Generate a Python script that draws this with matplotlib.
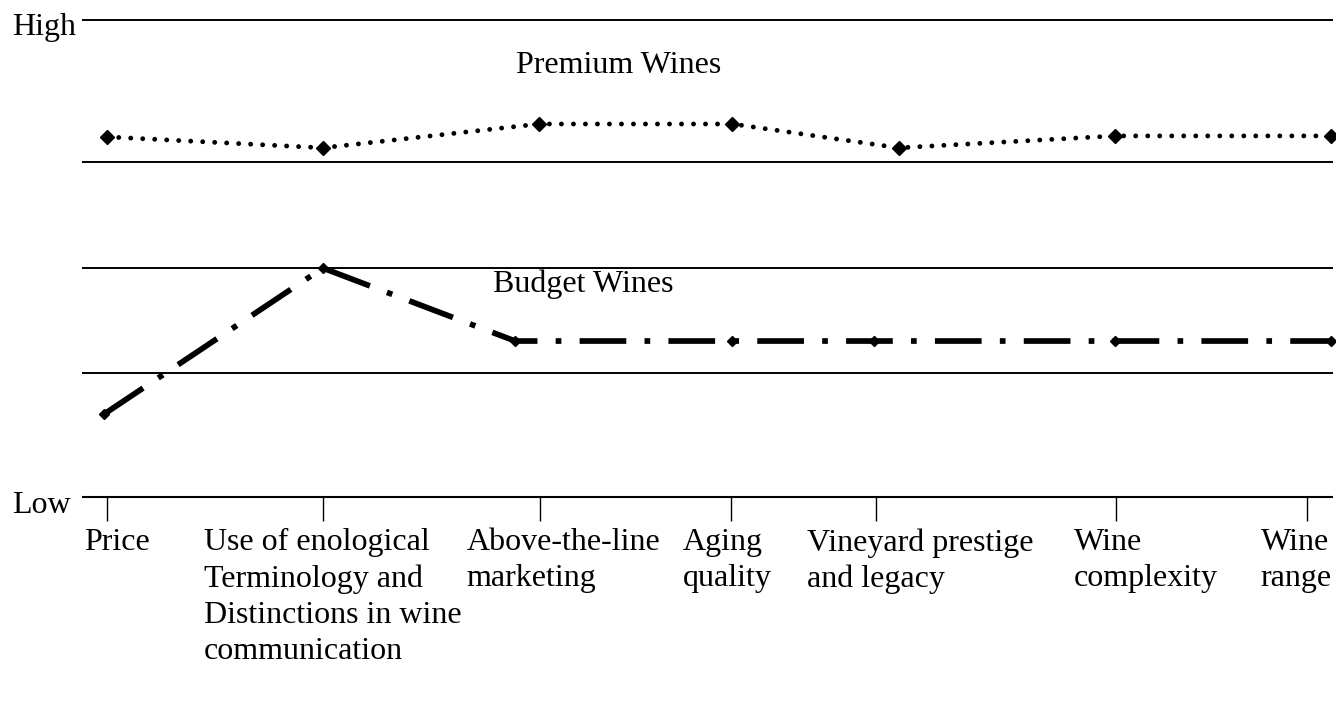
import matplotlib
matplotlib.use("Agg")
import matplotlib.pyplot as plt
import matplotlib.transforms as mtransforms

# ---- data ----
categories = ["Price",
              "Use of enological\nTerminology and\nDistinctions in wine\ncommunication",
              "Above-the-line\nmarketing",
              "Aging\nquality",
              "Vineyard prestige\nand legacy",
              "Wine\ncomplexity",
              "Wine\nrange"]
tick_positions = [1.9, 19.2, 36.6, 51.9, 63.5, 82.7, 98.0]

premium_x = [1.9, 19.2, 36.5, 52.0, 65.3, 82.6, 99.9]
premium_y = [75.5, 73.2, 78.2, 78.2, 73.2, 75.7, 75.7]

budget_x = [1.7, 19.2, 34.6, 52.0, 63.3, 82.6, 99.9]
budget_y = [17.4, 48.0, 32.7, 32.7, 32.7, 32.7, 32.7]

grid_levels = [26.0, 48.0, 70.2, 100.0]

# ---- layout ----
label_left = [0.08, 9.7, 30.7, 48.0, 58.0, 79.3, 94.3]

FONT = ["Liberation Serif", "DejaVu Serif"]
FS = 23

fig = plt.figure(figsize=(13.36, 7.01), dpi=100)
ax = fig.add_axes([83/1336, 204/701, 1249/1336, 477/701])
ax.set_xlim(0, 100)
ax.set_ylim(0, 100)

for g in grid_levels:
    ax.axhline(g, color="black", lw=1.4, clip_on=False, zorder=1)

# Premium: dotted line with diamonds
ax.plot(premium_x, premium_y, color="black", lw=3.5,
        dashes=(0.01, 2.46), dash_capstyle="round",
        marker="D", markersize=7, clip_on=False, zorder=3)

# Budget: heavy dash-dot line with small diamonds
ax.plot(budget_x, budget_y, color="black", lw=4.1,
        dashes=(8.2, 3.2, 1.0, 3.2), dash_capstyle="butt",
        marker="D", markersize=5.5, clip_on=False, zorder=3)

for s in ["top", "right", "left"]:
    ax.spines[s].set_visible(False)
ax.spines["bottom"].set_linewidth(1.5)
ax.set_yticks([])
ax.set_xticks(tick_positions)
ax.set_xticklabels([""] * len(tick_positions))
ax.tick_params(axis="x", direction="out", length=17.3, width=1.0, color="black")

trans = mtransforms.blended_transform_factory(ax.transData, fig.transFigure)
for lab, lx in zip(categories, label_left):
    ax.text(lx, 1 - 528/701, lab, transform=trans, ha="left", va="top",
            fontsize=FS, family=FONT, linespacing=1.32)

fig.text(12/1336, 1 - 35/701, "High", ha="left", va="baseline", fontsize=FS, family=FONT)
fig.text(12/1336, 1 - 513/701, "Low", ha="left", va="baseline", fontsize=FS, family=FONT)
fig.text(516/1336, 1 - 73/701, "Premium Wines", ha="left", va="baseline", fontsize=FS, family=FONT)
fig.text(493/1336, 1 - 292/701, "Budget Wines", ha="left", va="baseline", fontsize=FS, family=FONT)

fig.savefig("out.png", dpi=100, facecolor="white")
